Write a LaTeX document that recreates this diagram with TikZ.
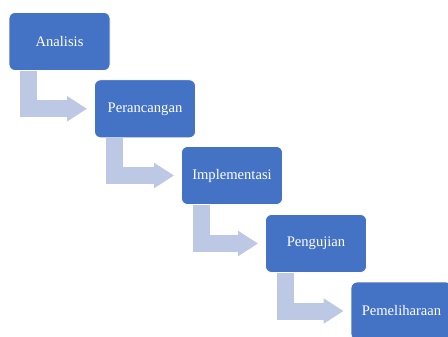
\documentclass[tikz,border=0pt]{standalone}
\usepackage{fontspec}
\setmainfont{Liberation Serif}
\usetikzlibrary{arrows.meta}
\definecolor{blufase}{RGB}{68,114,196}
\definecolor{frecciachiara}{RGB}{189,200,228}
\tikzset{
  fase/.style={draw=white, fill=blufase, rounded corners=3pt, minimum width=50.5pt, minimum height=29pt, text=white, font=\fontsize{7.3}{9}\selectfont},
  freccia/.style={frecciachiara, line width=8.5pt, -{Triangle[width=12pt,length=10pt]}}
}
\begin{document}
\begin{tikzpicture}[x=0.5pt,y=-0.5pt]
        \useasboundingbox (0,0) rectangle (448,336);

        % Fasi (blocchi blu)
        \node[fase] (analisis) at (59.5,41.5) {Analisis};
        \node[fase] (perancangan) at (145,108.8) {Perancangan};
        \node[fase] (implementasi) at (232,175.5) {Implementasi};
        \node[fase] (pengujian) at (316,243.5) {Pengujian};
        \node[fase] (pemeliharaan) at (401.5,311) {Pemeliharaan};

        % Frecce a gomito tra le fasi
        \draw[freccia] ([xshift=10pt]analisis.south west) |- ([xshift=-3.5pt]perancangan.west);
        \draw[freccia] ([xshift=10pt]perancangan.south west) |- ([xshift=-3.5pt]implementasi.west);
        \draw[freccia] ([xshift=10pt]implementasi.south west) |- ([xshift=-3.5pt]pengujian.west);
        \draw[freccia] ([xshift=10pt]pengujian.south west) |- ([xshift=-3.5pt]pemeliharaan.west);
    \end{tikzpicture}
\end{document}
